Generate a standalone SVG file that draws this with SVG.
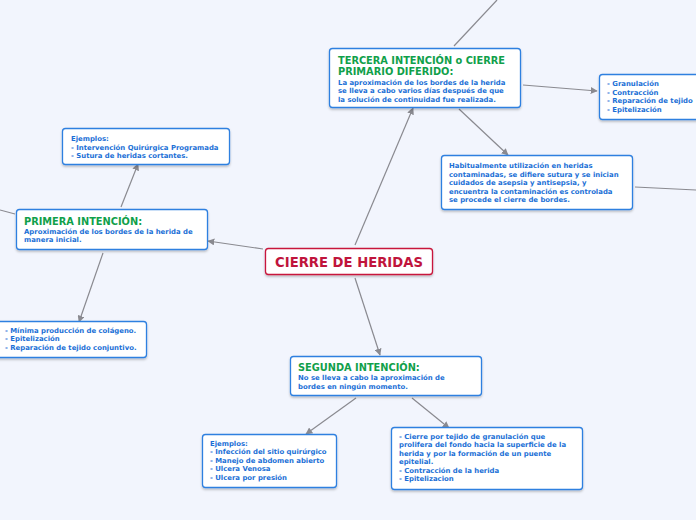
<svg xmlns="http://www.w3.org/2000/svg" width="696" height="520" viewBox="0 0 696 520">
<defs>
<marker id="ah" viewBox="0 0 10 10" refX="9" refY="5" markerWidth="7" markerHeight="7" orient="auto" markerUnits="userSpaceOnUse"><path d="M0,0 L10,5 L0,10 z" fill="#8a8a90"/></marker>
<filter id="sh" x="-10%" y="-10%" width="120%" height="130%"><feDropShadow dx="0" dy="1.5" stdDeviation="1" flood-color="#000" flood-opacity="0.25"/></filter>
</defs>
<style>
.n{fill:#fff;stroke:#2f80e0;stroke-width:1.3;filter:url(#sh)}
.c{fill:#fff;stroke:#c8183c;stroke-width:1.3;filter:url(#sh)}
.t{font-family:"DejaVu Sans",Verdana,sans-serif;font-weight:bold;font-size:9.8px;fill:#10a04a}
.b{font-family:"DejaVu Sans",Verdana,sans-serif;font-weight:bold;font-size:6.9px;fill:#1a6fd6}
.m{font-family:"DejaVu Sans",Verdana,sans-serif;font-weight:bold;font-size:13.2px;fill:#c0143c}
.l{stroke:#8a8a90;stroke-width:1.2;fill:none}
.a{marker-end:url(#ah)}
</style>
<rect width="696" height="520" fill="#f2f5fd"/>
<g id="connectors">
<line class="l a" x1="355" y1="245" x2="413" y2="108"/>
<line class="l a" x1="263" y1="249" x2="208" y2="241"/>
<line class="l a" x1="355" y1="278" x2="380" y2="355"/>
<line class="l a" x1="523" y1="85" x2="597" y2="91"/>
<line class="l a" x1="459" y1="109" x2="508" y2="155"/>
<line class="l a" x1="121" y1="207" x2="138" y2="164"/>
<line class="l a" x1="103" y1="253" x2="79" y2="322"/>
<line class="l a" x1="356" y1="398" x2="306" y2="434"/>
<line class="l a" x1="412" y1="398" x2="449" y2="428"/>
<line class="l" x1="454" y1="46" x2="497" y2="0"/>
<line class="l" x1="635" y1="187" x2="696" y2="190"/>
<line class="l" x1="15" y1="214" x2="0" y2="210"/>
</g>
<g id="center">
<rect class="c" x="265.5" y="248.5" width="167" height="26" rx="3"/>
<text class="m" x="349" y="266.5" text-anchor="middle">CIERRE DE HERIDAS</text>
</g>
<g id="tercera">
<rect class="n" x="329.5" y="48.5" width="191" height="59" rx="3"/>
<text class="t" x="338" y="63.5">TERCERA INTENCIÓN o CIERRE</text>
<text class="t" x="338" y="75">PRIMARIO DIFERIDO:</text>
<text class="b" x="338" y="84.5">La aproximación de los bordes de la herida</text>
<text class="b" x="338" y="93">se lleva a cabo varios días después de que</text>
<text class="b" x="338" y="101.5">la solución de continuidad fue realizada.</text>
</g>
<g id="tercera-lista">
<rect class="n" x="599.5" y="74.5" width="104" height="45" rx="3"/>
<text class="b" x="607" y="86">- Granulación</text>
<text class="b" x="607" y="94.5">- Contracción</text>
<text class="b" x="607" y="103">- Reparación de tejido</text>
<text class="b" x="607" y="111.5">- Epitelización</text>
</g>
<g id="habitual">
<rect class="n" x="441.5" y="155.5" width="191" height="54" rx="3"/>
<text class="b" x="449" y="168">Habitualmente utilización en heridas</text>
<text class="b" x="449" y="176.5">contaminadas, se difiere sutura y se inician</text>
<text class="b" x="449" y="185">cuidados de asepsia y antisepsia, y</text>
<text class="b" x="449" y="193.5">encuentra la contaminación es controlada</text>
<text class="b" x="449" y="202">se procede el cierre de bordes.</text>
</g>
<g id="primera-ejemplos">
<rect class="n" x="62.5" y="128.5" width="167" height="36" rx="3"/>
<text class="b" x="71" y="141">Ejemplos:</text>
<text class="b" x="71" y="149.5">- Intervención Quirúrgica Programada</text>
<text class="b" x="71" y="158">- Sutura de heridas cortantes.</text>
</g>
<g id="primera">
<rect class="n" x="16.5" y="209.5" width="191" height="40" rx="3"/>
<text class="t" x="24" y="224.5">PRIMERA INTENCIÓN:</text>
<text class="b" x="24" y="233.5">Aproximación de los bordes de la herida de</text>
<text class="b" x="24" y="242">manera inicial.</text>
</g>
<g id="primera-lista">
<rect class="n" x="-5.5" y="321.5" width="152" height="36" rx="3"/>
<text class="b" x="5" y="332.5">- Mínima producción de colágeno.</text>
<text class="b" x="5" y="341">- Epitelización</text>
<text class="b" x="5" y="349.5">- Reparación de tejido conjuntivo.</text>
</g>
<g id="segunda">
<rect class="n" x="290.5" y="356.5" width="191" height="39" rx="3"/>
<text class="t" x="298" y="371">SEGUNDA INTENCIÓN:</text>
<text class="b" x="298" y="380">No se lleva a cabo la aproximación de</text>
<text class="b" x="298" y="388.5">bordes en ningún momento.</text>
</g>
<g id="segunda-ejemplos">
<rect class="n" x="202.5" y="434.5" width="134" height="53" rx="3"/>
<text class="b" x="210" y="445.5">Ejemplos:</text>
<text class="b" x="210" y="454">- Infección del sitio quirúrgico</text>
<text class="b" x="210" y="462.5">- Manejo de abdomen abierto</text>
<text class="b" x="210" y="471">- Ulcera Venosa</text>
<text class="b" x="210" y="479.5">- Ulcera por presión</text>
</g>
<g id="segunda-lista">
<rect class="n" x="391.5" y="427.5" width="191" height="62" rx="3"/>
<text class="b" x="399" y="438.5">- Cierre por tejido de granulación que</text>
<text class="b" x="399" y="447">prolifera del fondo hacia la superficie de la</text>
<text class="b" x="399" y="455.5">herida y por la formación de un puente</text>
<text class="b" x="399" y="464">epitelial.</text>
<text class="b" x="399" y="472.5">- Contracción de la herida</text>
<text class="b" x="399" y="481">- Epitelizacion</text>
</g>
</svg>
